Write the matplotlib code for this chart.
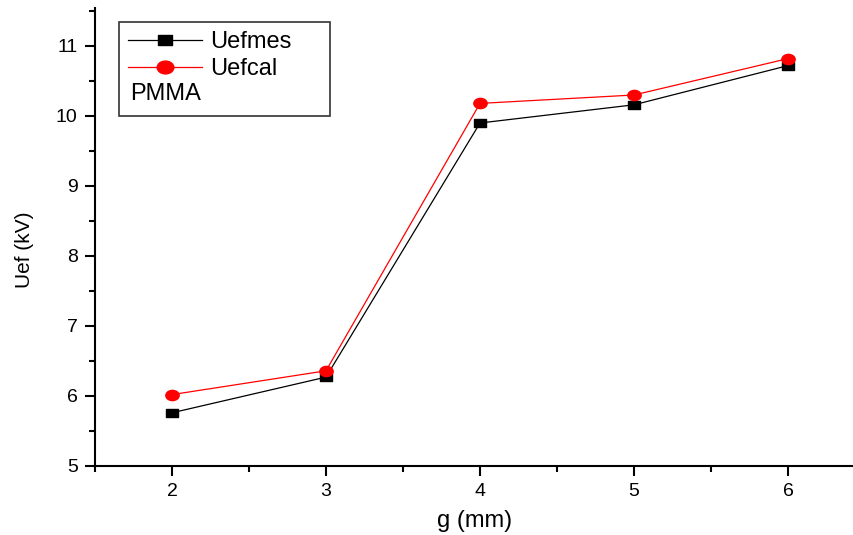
import matplotlib
matplotlib.use("Agg")
import matplotlib.pyplot as plt
from matplotlib.lines import Line2D
from matplotlib.text import Text
from matplotlib.path import Path
from matplotlib.transforms import Affine2D
from matplotlib.legend_handler import HandlerBase
from matplotlib.ticker import MultipleLocator

plt.rcParams['font.family'] = ['Liberation Sans', 'DejaVu Sans']

g = [2, 3, 4, 5, 6]
uefmes = [5.76, 6.27, 9.90, 10.16, 10.72]
uefcal = [6.02, 6.36, 10.18, 10.30, 10.82]
legend_labels = ["Uefmes", "Uefcal", "PMMA"]

# slightly wide markers (the reference image is horizontally stretched)
sq = Path([(-1.5, -1), (1.5, -1), (1.5, 1), (-1.5, 1), (-1.5, -1)],
          [Path.MOVETO, Path.LINETO, Path.LINETO, Path.LINETO, Path.CLOSEPOLY])
ell = Path.unit_circle().transformed(Affine2D().scale(1.3, 1.0))

fig = plt.figure(figsize=(8.54, 5.35), dpi=100)
ax = fig.add_axes([95/854, 69/535, 1 - 95/854, (466-8)/535])

ax.plot(g, uefmes, color='black', lw=0.9, marker=sq, markersize=9.2, label=legend_labels[0])
ax.plot(g, uefcal, color='red', lw=0.9, marker=ell, markersize=9.6, label=legend_labels[1])

ax.set_xlim(1.5, 1.5 + (854-95)/154)
ax.set_ylim(5, 5 + (466-8)/70)
ax.xaxis.set_major_locator(MultipleLocator(1))
ax.xaxis.set_minor_locator(MultipleLocator(0.5))
ax.yaxis.set_major_locator(MultipleLocator(1))
ax.yaxis.set_minor_locator(MultipleLocator(0.5))
ax.tick_params(which='major', direction='out', length=7.5, width=1.5, labelsize=14, pad=5)
ax.tick_params(which='minor', direction='out', length=4, width=1.5)
for s in ['top', 'right']:
    ax.spines[s].set_visible(False)
for s in ['left', 'bottom']:
    ax.spines[s].set_linewidth(1.5)

ax.set_xlabel("g (mm)", fontsize=17)
ax.xaxis.set_label_coords(0.5, -0.095)
ax.set_ylabel("Uef (kV)", fontsize=15)
ax.yaxis.set_label_coords(-0.08, 0.472)


class TextHandler(HandlerBase):
    def create_artists(self, legend, orig_handle, xdescent, ydescent,
                       width, height, fontsize, trans):
        t = Text(-xdescent + 1, -ydescent + height / 2, legend_labels[2],
                 fontsize=fontsize, va='center', ha='left',
                 family=['Liberation Sans', 'DejaVu Sans'], transform=trans)
        return [t]


h1 = Line2D([], [], color='black', lw=0.9, marker=sq, markersize=10.5)
h2 = Line2D([], [], color='red', lw=0.9, marker=ell, markersize=12)
h3 = object()
leg = ax.legend([h1, h2, h3], [legend_labels[0], legend_labels[1], ""],
                handler_map={object: TextHandler()},
                loc='upper left', mode='expand',
                bbox_to_anchor=((119-95)/759, 0.5, 211/759, 1 - 14/458 - 0.5),
                fontsize=17, frameon=True, fancybox=False, edgecolor='black',
                handlelength=3.1, handletextpad=0.35, borderpad=0.4, labelspacing=0.2,
                borderaxespad=0)
leg.get_frame().set_linewidth(1.2)

fig.savefig("out.png", dpi=100)
